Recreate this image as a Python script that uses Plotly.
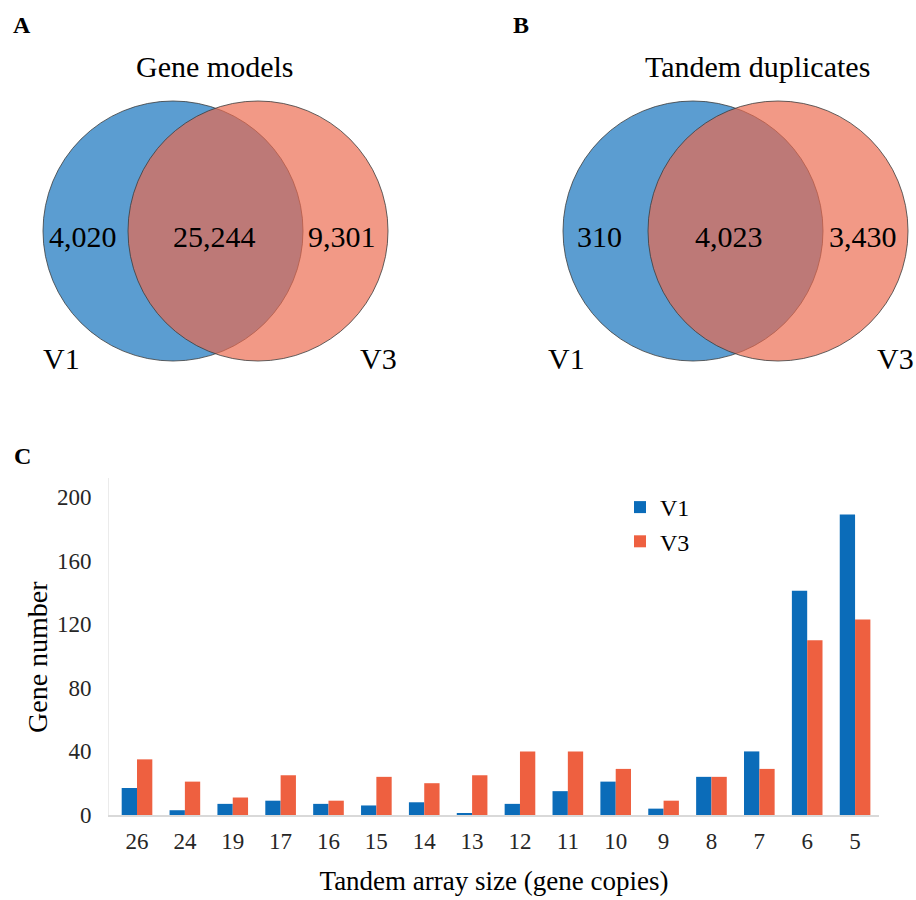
import plotly.graph_objects as go

# ---------------- data ----------------
categories = ["26", "24", "19", "17", "16", "15", "14", "13", "12", "11", "10", "9", "8", "7", "6", "5"]
v1_counts = [17, 3, 7, 9, 7, 6, 8, 1, 7, 15, 21, 4, 24, 40, 141, 189]
v3_counts = [35, 21, 11, 25, 9, 24, 20, 25, 40, 40, 29, 9, 24, 29, 110, 123]
y_ticks = [0, 40, 80, 120, 160, 200]

venn_titles = ["Gene models", "Tandem duplicates"]
venn_only_v1 = [4020, 310]
venn_shared = [25244, 4023]
venn_only_v3 = [9301, 3430]
venn_set_names = ["V1", "V3"]
panel_letters = ["A", "B", "C"]

# ---------------- style ----------------
W, H = 916, 900
FONT = "Liberation Serif"
BAR_BLUE = "rgb(11,108,185)"
BAR_RED = "rgb(238,96,64)"
VENN_BLUE = "rgb(91,157,209)"
VENN_RED = "rgba(236,105,76,0.68)"


def px(x):
    return x / W


def py(y):
    return 1 - y / H


fig = go.Figure()

fig.add_trace(go.Bar(x=list(range(len(categories))), y=v1_counts, name="V1",
                     marker=dict(color=BAR_BLUE, line=dict(width=0))))
fig.add_trace(go.Bar(x=list(range(len(categories))), y=v3_counts, name="V3",
                     marker=dict(color=BAR_RED, line=dict(width=0))))

shapes = []
annotations = []

# Venn panels
venn_layout = [
    dict(cx1=173, cx2=258, cy=231, r=130, title_x=214, lx=83, mx=214, rx=342,
         s1x=61, s3x=378, letter_x=22),
    dict(cx1=693, cx2=778, cy=231, r=130, title_x=757, lx=599, mx=729, rx=863,
         s1x=566, s3x=895, letter_x=521),
]
for i, g in enumerate(venn_layout):
    for cx, col in [(g["cx1"], VENN_BLUE), (g["cx2"], VENN_RED)]:
        shapes.append(dict(type="circle", xref="paper", yref="paper",
                           x0=px(cx - g["r"]), x1=px(cx + g["r"]),
                           y0=py(g["cy"] + g["r"]), y1=py(g["cy"] - g["r"]),
                           fillcolor=col, line=dict(color="rgba(60,60,60,0.8)", width=1)))
    annotations.append(dict(text=venn_titles[i], x=px(g["title_x"]), y=py(67)))
    annotations.append(dict(text=f"{venn_only_v1[i]:,}", x=px(g["lx"]), y=py(237)))
    annotations.append(dict(text=f"{venn_shared[i]:,}", x=px(g["mx"]), y=py(237)))
    annotations.append(dict(text=f"{venn_only_v3[i]:,}", x=px(g["rx"]), y=py(237)))
    annotations.append(dict(text=venn_set_names[0], x=px(g["s1x"]), y=py(359)))
    annotations.append(dict(text=venn_set_names[1], x=px(g["s3x"]), y=py(359)))
    annotations.append(dict(text=f"<b>{panel_letters[i]}</b>", x=px(g["letter_x"]), y=py(25),
                            font=dict(family=FONT, size=24, color="black")))

annotations.append(dict(text=f"<b>{panel_letters[2]}</b>", x=px(22), y=py(456),
                        font=dict(family=FONT, size=24, color="black")))

# y axis title as rotated annotation for exact placement
annotations.append(dict(text="Gene number", x=px(37), y=py(657), textangle=-90,
                        font=dict(family=FONT, size=28, color="black")))

for a in annotations:
    a.setdefault("font", dict(family=FONT, size=30, color="black"))
    a.update(xref="paper", yref="paper", showarrow=False, xanchor="center", yanchor="middle")

# bar plot area (in pixels)
left, right, top, bottom = 109, 879, 478, 815

fig.update_layout(
    width=W, height=H,
    margin=dict(l=0, r=0, t=0, b=0, autoexpand=False),
    paper_bgcolor="white", plot_bgcolor="white",
    barmode="group", bargap=0.36, bargroupgap=0,
    shapes=shapes, annotations=annotations,
    font=dict(family=FONT, color="black"),
    legend=dict(x=px(620), y=py(485), xanchor="left", yanchor="top",
                font=dict(family=FONT, size=24, color="black"),
                bgcolor="rgba(0,0,0,0)", tracegroupgap=0),
    xaxis=dict(domain=[px(left), px(right)], anchor="y", automargin=False,
               range=[-0.585, 15.5],
               tickmode="array", tickvals=list(range(len(categories))), ticktext=categories,
               showline=True, linecolor="#D9D9D9", linewidth=1.5,
               showgrid=False, zeroline=False, ticks="", ticklabelstandoff=5,
               tickfont=dict(family=FONT, size=23, color="#262626"),
               title=dict(text="Tandem array size (gene copies)",
                          font=dict(family=FONT, size=27, color="black"), standoff=18)),
    yaxis=dict(domain=[py(bottom), py(top)], anchor="x", automargin=False,
               range=[0, 212],
               tickmode="array", tickvals=y_ticks,
               showline=True, linecolor="#EBEBEB", linewidth=1,
               showgrid=False, zeroline=False, ticks="", ticklabelstandoff=12,
               tickfont=dict(family=FONT, size=23, color="#262626")),
)

fig.write_html("out.html", config={"displayModeBar": False},
               post_script="document.body.style.margin='0';document.body.style.overflow='hidden';")
